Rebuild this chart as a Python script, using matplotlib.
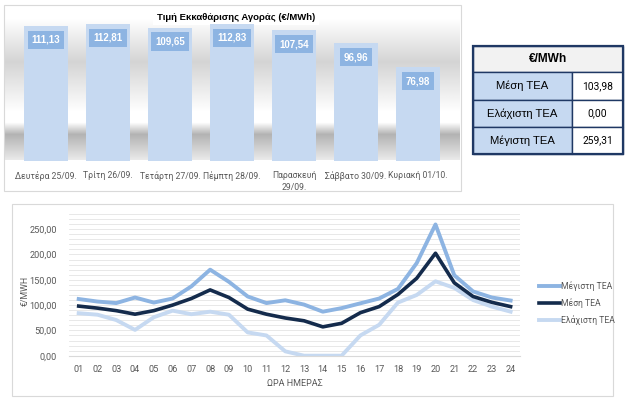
import numpy as np
import matplotlib
matplotlib.use("Agg")
import matplotlib.pyplot as plt
from matplotlib.patches import Rectangle
from matplotlib.ticker import MultipleLocator, FuncFormatter

plt.rcParams['font.family'] = ['Roboto', 'DejaVu Sans']
BOLD = ["Liberation Sans", "DejaVu Sans"]

# ---- data ----
days = ["Δευτέρα 25/09.", "Τρίτη 26/09.", "Τετάρτη 27/09.", "Πέμπτη 28/09.",
        "Παρασκευή\n29/09.", "Σάββατο 30/09.", "Κυριακή 01/10."]
day_price = [111.13, 112.81, 109.65, 112.83, 107.54, 96.96, 76.98]

table_labels = ["Μέση ΤΕΑ", "Ελάχιστη ΤΕΑ", "Μέγιστη ΤΕΑ"]
table_values = ["103,98", "0,00", "259,31"]

hours = ["%02d" % h for h in range(1, 25)]
max_tea = [112, 107, 104, 115, 105, 113, 137, 170, 146, 117, 104, 109.5,
           101, 87, 94, 103.5, 113, 132, 183, 259.31, 159, 127, 115, 109]
mean_tea = [98, 94, 89, 82, 89, 100, 113, 130, 115, 92, 82, 74.5,
            69, 57, 64, 85, 97, 121, 153, 202.5, 144, 117, 105.5, 97]
min_tea = [84, 81, 70.5, 51, 76, 89, 82, 87, 81, 46, 40, 8.6,
           0, 0, 0, 40, 61, 105, 120, 147, 134, 110, 97, 87]

W, H = 630, 399
fig = plt.figure(figsize=(W / 100, H / 100), dpi=100)


def box(x0, y0, x1, y1):
    return [x0 / W, 1 - y1 / H, (x1 - x0) / W, (y1 - y0) / H]


def euro(v, pos=None):
    return f"{v:.2f}".replace(".", ",")


# background layer in pixel coordinates
bg = fig.add_axes([0, 0, 1, 1])
bg.axis("off")

# gradient behind the bar chart (Excel 3D look)
ys = np.arange(5, 191)
shade = np.ones(len(ys))
for i, y in enumerate(ys):
    if 18 <= y < 62:
        shade[i] = 1 - 0.17 * (y - 18) / 44
    elif 62 <= y < 112:
        shade[i] = 0.83 + 0.17 * (y - 62) / 50
    elif 122 <= y < 134:
        shade[i] = 1 - 0.3 * (y - 122) / 12
    elif 134 <= y < 160:
        shade[i] = 0.70 + 0.22 * (y - 134) / 26
img = np.repeat(shade[:, None], 10, axis=1)
bg.imshow(img, cmap="gray", vmin=0, vmax=1, extent=(5, 460, 191, 5),
          aspect="auto", interpolation="bilinear", zorder=0)
bg.set_xlim(0, W)
bg.set_ylim(H, 0)
bg.add_patch(Rectangle((4, 5), 457, 186, fill=False, ec="#d9d9d9", lw=0.8))
bg.add_patch(Rectangle((12, 204), 601, 192, fill=False, ec="#d9d9d9", lw=0.8))

# title with white box
bg.text(236, 17, "Τιμή Εκκαθάρισης Αγοράς (€/MWh)", ha="center", va="center",
        fontsize=6.8, fontweight="bold", color="black", family=BOLD,
        bbox=dict(facecolor="white", edgecolor="none", pad=2.5), zorder=5)

# table
navy = "#1f3864"
row_edges = [46, 72, 100, 127, 154]
tx0, tx1, tsplit = 473, 623, 572
bg.add_patch(Rectangle((tx0, row_edges[0]), tx1 - tx0, row_edges[1] - row_edges[0],
                       fc="#f2f2f2", ec=navy, lw=1.0, zorder=3))
bg.text((tx0 + tx1) / 2, (row_edges[0] + row_edges[1]) / 2, "€/MWh",
        ha="center", va="center", fontsize=8.6, fontweight="bold",
        family=BOLD, zorder=4)
for i, (lab, val) in enumerate(zip(table_labels, table_values)):
    r0, r1 = row_edges[i + 1], row_edges[i + 2]
    bg.add_patch(Rectangle((tx0, r0), tsplit - tx0, r1 - r0, fc="#c6d9f1",
                           ec=navy, lw=1.0, zorder=3))
    bg.add_patch(Rectangle((tsplit, r0), tx1 - tsplit, r1 - r0, fc="white",
                           ec=navy, lw=1.0, zorder=3))
    bg.text((tx0 + tsplit) / 2, (r0 + r1) / 2, lab, ha="center", va="center",
            fontsize=8.1, family=BOLD, zorder=4)
    bg.text((tsplit + tx1) / 2, (r0 + r1) / 2, val, ha="center", va="center",
            fontsize=7.4, zorder=4)
bg.add_patch(Rectangle((tx0, row_edges[0]), tx1 - tx0, row_edges[-1] - row_edges[0],
                       fill=False, ec=navy, lw=1.6, zorder=5))

# ---- bar chart ----
ax1 = fig.add_axes(box(15, 20, 449, 161))
ax1.patch.set_alpha(0)
x = np.arange(len(days))
ax1.bar(x, day_price, width=0.71, color="#c6d9f1", zorder=2)
for xi, v in zip(x, day_price):
    ax1.annotate(euro(v), (xi, v), xytext=(0, -10), textcoords="offset points",
                 ha="center", va="center", color="white", fontweight="bold",
                 fontsize=7, family=BOLD,
                 bbox=dict(facecolor="#8db4e2", edgecolor="none", pad=3))
ax1.set_xlim(-0.5, len(days) - 0.5)
ax1.set_ylim(0, 116)
ax1.set_xticks(x)
ax1.set_xticklabels(days, fontsize=6.2, color="#595959", linespacing=1.4)
ax1.tick_params(axis="x", length=0, pad=7)
ax1.set_yticks([])
for s in ax1.spines.values():
    s.set_visible(False)

# ---- line chart ----
ax2 = fig.add_axes(box(69.3, 214, 520, 355.7))
hx = np.arange(1, 25)
ax2.plot(hx, max_tea, color="#8db4e2", lw=2.8, label="Μέγιστη ΤΕΑ", zorder=3)
ax2.plot(hx, mean_tea, color="#142b4c", lw=2.6, label="Μέση ΤΕΑ", zorder=4)
ax2.plot(hx, min_tea, color="#c6d9f1", lw=2.8, label="Ελάχιστη ΤΕΑ", zorder=2)
ax2.set_xlim(0.5, 24.5)
ax2.set_ylim(0, 280)
ax2.yaxis.set_major_locator(MultipleLocator(50))
ax2.yaxis.set_minor_locator(MultipleLocator(10))
ax2.yaxis.set_major_formatter(FuncFormatter(euro))
ax2.grid(True, which="both", axis="y", color="#e4e4e4", lw=0.6, zorder=0)
ax2.set_xticks(hx)
ax2.set_xticklabels(hours)
ax2.tick_params(axis="both", which="both", length=0, labelsize=6.6,
                labelcolor="#595959")
ax2.tick_params(axis="x", pad=7)
ax2.tick_params(axis="y", pad=9)
for k, s in ax2.spines.items():
    s.set_visible(k == "bottom")
ax2.spines["bottom"].set_color("#d9d9d9")
ax2.set_xlabel("ΩΡΑ ΗΜΕΡΑΣ", fontsize=6.5, color="#595959", labelpad=3)
ax2.set_ylabel("€/MWH", fontsize=6.3, color="#595959")
ax2.yaxis.set_label_coords(-0.087, 0.46)
ax2.legend(loc="center left", bbox_to_anchor=(1.025, 0.37), frameon=False,
           fontsize=6.2, labelcolor="#595959", handlelength=2.4,
           handletextpad=0.1, labelspacing=0.8)

fig.savefig("out.png", dpi=100)
